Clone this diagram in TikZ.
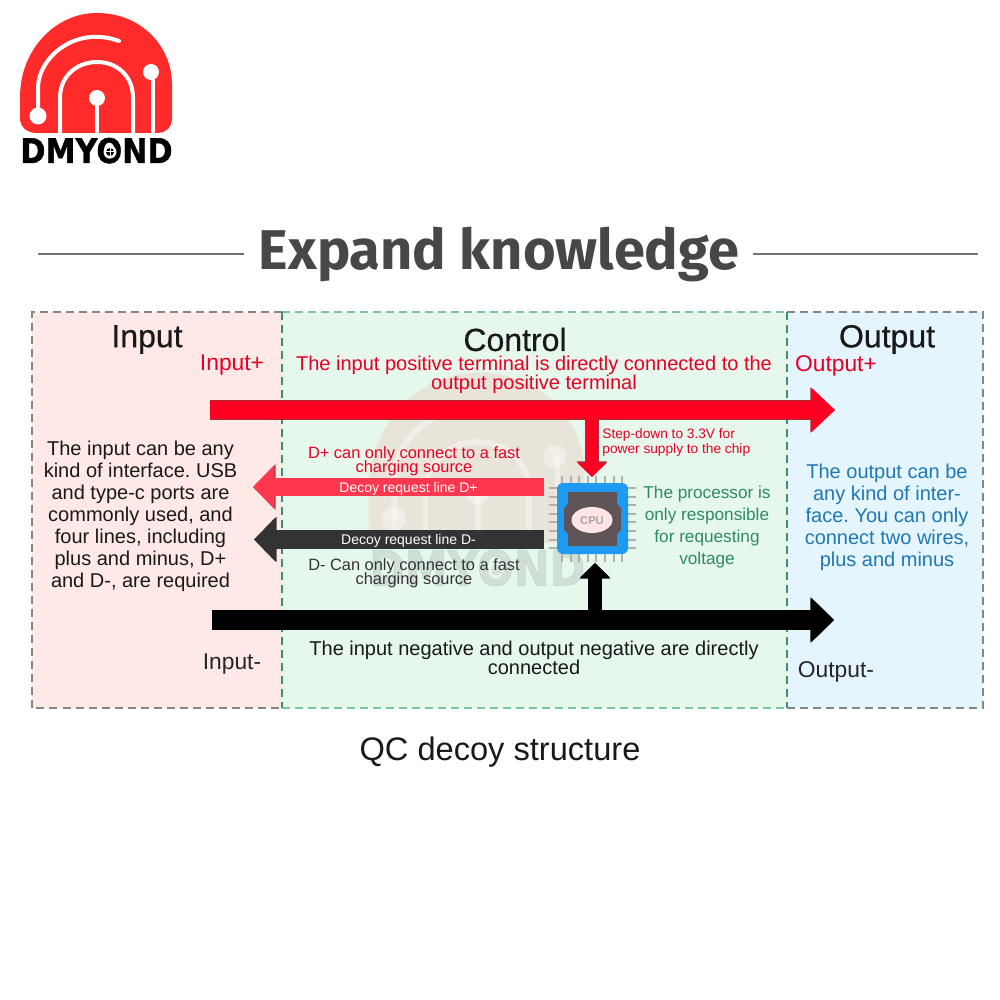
\documentclass[tikz,border=0pt]{standalone}
\usepackage{fontspec}
\setmainfont{Liberation Sans}
\newfontfamily\headfont{Fira Sans}
\newfontfamily\titlefont[FakeBold=0.5]{Liberation Sans}
\newfontfamily\wideboldfont[FakeBold=1.2]{DejaVu Sans Bold}
\usetikzlibrary{arrows.meta,calc}
\definecolor{inputbg}{HTML}{FFE9E7}
\definecolor{controlbg}{HTML}{E6F7EC}
\definecolor{outputbg}{HTML}{E5F5FE}
\definecolor{brandred}{HTML}{FF2A2A}
\definecolor{linered}{HTML}{FF0022}
\definecolor{lineredge}{HTML}{A03038}
\definecolor{decoyred}{HTML}{FF3850}
\definecolor{decoyedge}{HTML}{A8404C}
\definecolor{decoyblack}{HTML}{333333}
\definecolor{textred}{HTML}{E60026}
\definecolor{textblue}{HTML}{1F78B4}
\definecolor{textgreen}{HTML}{2E8B66}
\definecolor{chipblue}{HTML}{1E9BF0}
\definecolor{chipdark}{HTML}{5F5558}
\definecolor{pingrey}{HTML}{B0B0B0}
\definecolor{dashgrey}{HTML}{858585}
\definecolor{dashteal}{HTML}{3F8F72}
\definecolor{dashmint}{HTML}{78C4A4}
\lineskiplimit=-10pt
\frenchspacing
\newcommand{\fs}[2]{\fontsize{#1pt}{#2pt}\selectfont\lineskiplimit=-10pt\relax}
\tikzset{
  txt/.style={inner sep=0pt,align=center,anchor=center},
  paneltitle/.style={txt,font=\titlefont\fs{16}{18},text=black!90},
  bodytext/.style={txt,font=\fs{10}{11}},
  termlabel/.style={txt,font=\fs{11.4}{13}},
  notetext/.style={txt,font=\fs{8.2}{7}},
  wiretext/.style={txt,font=\fs{7}{8},text=white},
  edgegrey/.style={dash pattern=on 4pt off 2.5pt,line width=1pt,draw=dashgrey},
  edgeteal/.style={dash pattern=on 4pt off 2.5pt,line width=1pt,draw=dashteal},
  edgemint/.style={dash pattern=on 4pt off 2.5pt,line width=1pt,draw=dashmint},
  rule/.style={draw=black!55,line width=1pt},
  pin/.style={draw=pingrey,line width=1pt},
  fat/.style n args={6}{% fill, edge, shaft width, head length, head width
    line cap=butt,draw=#1,line width=#3,
    -{Triangle[length=#4,width=#5,fill=#1,color=#1]},
    preaction={draw=#2,line width=#3+.8pt,-{Triangle[length=#4+.8pt,width=#5+1pt,fill=#2,color=#2]}}
  },
}
% Brand mark: dome, traces and lettering. Arguments: line scale, trace opacity
\newcommand{\brandmark}[2]{%
  \fill[brandred] (20,97) .. controls (20,50) and (55,13) .. (97,13)
     .. controls (140,13) and (172,45) .. (172,85) -- (172,118)
     .. controls (172,128) and (165,133) .. (158,133) -- (37,133)
     .. controls (27,133) and (20,127) .. (20,118) -- cycle;
  \begin{scope}[white,line width=#1*2pt,line cap=round,opacity=#2]
    \draw (38,116) -- (38,88) .. controls (38,58) and (75,25) .. (119,41);
    \draw[line cap=butt] (60,134) -- (60,98) .. controls (60,75) and (78,62) .. (97,62)
       .. controls (116,62) and (133,75) .. (133,98) -- (133,134);
    \draw[line cap=butt] (97,98) -- (97,134);
    \draw[line cap=butt] (153,72) -- (153,134);
    \fill (38,116) circle (8.5);
    \fill (97,98) circle (8);
    \fill (151,72) circle (8);
  \end{scope}
  \node[inner sep=0pt,anchor=base west,xscale=.89,transform shape,font=\wideboldfont\fs{17}{20},text=black] at (20,163) {DMYOND};
  \fill[white] (110,152) circle (6.5);
  \fill[black] (110,152) circle (4);
  \draw[white,line width=#1*.5pt] (110,147) -- (110,157) (105,152) -- (115,152);
}
\begin{document}
\begin{tikzpicture}[x=.5pt,y=-.5pt]
\useasboundingbox (0,0) rectangle (1000,1000);
\fill[white] (0,0) rectangle (1000,1000);

% Brand mark in the corner
\brandmark{1}{1}

% Heading with its two rules
\node[txt,font=\headfont\bfseries\fs{28}{32},text=black!72] (head) at (499,254) {Expand knowledge};
\coordinate (ruleAl) at (38,254); \coordinate (ruleAr) at (244,254);
\coordinate (ruleBl) at (753,254); \coordinate (ruleBr) at (978,254);
\draw[rule] (ruleAl) -- (ruleAr);
\draw[rule] (ruleBl) -- (ruleBr);

% Three panels
\fill[inputbg] (32,312) rectangle (281.5,708);
\fill[controlbg] (281.5,312) rectangle (787,708);
\fill[outputbg] (787,312) rectangle (983,708);

% Faint brand mark behind the wiring
\begin{scope}[shift={(340.2,354)},scale=1.42,opacity=.09]
  \brandmark{1.42}{.4}
\end{scope}

\draw[edgegrey] (281.5,312) -- (32,312) -- (32,708) -- (281.5,708);
\draw[edgegrey] (787,312) -- (983,312) -- (983,708) -- (787,708);
\draw[edgemint] (281.5,312) -- (787,312);
\draw[edgemint] (281.5,708) -- (787,708);
\draw[edgeteal] (281.5,312) -- (281.5,708);
\draw[edgeteal] (787,312) -- (787,708);

% Panel titles
\node[paneltitle] (tInput) at (147,339.5) {Input};
\node[paneltitle] (tControl) at (515,339.5) {Control};
\node[paneltitle] (tOutput) at (887,339.5) {Output};

% Terminal labels
\node[termlabel,text=textred] (inP) at (232,365.5) {Input+};
\node[termlabel,text=textred] (outP) at (836,365.5) {Output+};
\node[termlabel,text=black!85] (inN) at (232,664) {Input-};
\node[termlabel,text=black!85] (outN) at (836,672) {Output-};

% Panel descriptions
\node[bodytext,text=textred] (posNote) at (534,375) {The input positive terminal is directly connected to the\\[-1.5pt]output positive terminal};
\node[bodytext,text=black!90] (negNote) at (534,658) {The input negative and output negative are directly\\[-1.5pt]connected};
\node[bodytext,text=black!90] (inNote) at (140.5,516) {The input can be any\\kind of interface. USB\\and type-c ports are\\commonly used, and\\four lines, including\\plus and minus, D+\\and D-, are required};
\node[bodytext,text=textblue] (outNote) at (887,517) {The output can be\\any kind of inter-\\face. You can only\\connect two wires,\\plus and minus};
\node[txt,font=\fs{8.6}{11},text=textgreen] (cpuNote) at (707,527) {The processor is\\only responsible\\for requesting\\voltage};

% Notes beside the data lines
\node[notetext,text=textred] (dpNote) at (414,461) {D+ can only connect to a fast\\charging source};
\node[notetext,text=black!80] (dnNote) at (414,573) {D- Can only connect to a fast\\charging source};
\node[txt,align=left,anchor=west,font=\fs{6.85}{7.5},text=textred] (stepNote) at (602,442) {Step-down to 3.3V for\\power supply to the chip};

% Processor package
\foreach \p in {0,...,7}{
  \draw[pin] ({562+\p*8.6},476) -- ({562+\p*8.6},484);
  \draw[pin] ({562+\p*8.6},553) -- ({562+\p*8.6},562);
  \draw[pin] (549,{488+\p*8.6}) -- (558,{488+\p*8.6});
  \draw[pin] (627,{488+\p*8.6}) -- (636,{488+\p*8.6});
}
\node[fill=chipblue,rounded corners=3pt,minimum width=35.5pt,minimum height=35.5pt,inner sep=0pt] (cpu) at (592.5,518.5) {};
\fill[chipdark] (568,492) -- (617,492) -- (617,504) -- (621,508) -- (621,530) -- (617,534) -- (617,546)
   -- (568,546) -- (568,534) -- (564,530) -- (564,508) -- (568,504) -- cycle;
\fill[white!90!red] (592,520) ellipse (20.5 and 13);
\node[txt,font=\bfseries\fs{5.6}{7},text=black!35] (cpuText) at (592,521) {CPU};

% Power and ground rails
\coordinate (railPa) at (210,410); \coordinate (railPb) at (835,410);
\coordinate (railNa) at (212,620); \coordinate (railNb) at (834,620);
\draw[fat={linered}{lineredge}{9pt}{11.5pt}{21pt}{}] (railPa) -- (railPb);
\draw[fat={black}{black}{9pt}{11pt}{21pt}{}] (railNa) -- (railNb);

% Feeds to the processor
\coordinate (feedP) at (592,410);
\coordinate (feedPend) at (592,477);
\coordinate (feedN) at (595,620);
\coordinate (feedNend) at (595,563);
\draw[fat={linered}{lineredge}{6pt}{7pt}{14pt}{}] (feedP) -- (feedPend);
\draw[fat={black}{black}{6.5pt}{7pt}{14pt}{}] (feedN) -- (feedNend);
\fill[linered] (211,402) rectangle (812,418.5);

% Decoy request lines
\coordinate (dpStart) at (544,487); \coordinate (dpEnd) at (253,487);
\coordinate (dnStart) at (544,539.5); \coordinate (dnEnd) at (254,539.5);
\draw[fat={decoyred}{decoyedge}{8.6pt}{10.5pt}{21pt}{}] (dpStart) -- (dpEnd);
\draw[fat={decoyblack}{decoyblack}{8.6pt}{10.5pt}{21pt}{}] (dnStart) -- (dnEnd);
\node[wiretext] (dpText) at (408.5,489) {Decoy request line D+};
\node[wiretext] (dnText) at (408.5,541) {Decoy request line D-};

% Caption
\node[txt,font=\fs{16.3}{18},text=black!90] (caption) at (500,752) {QC decoy structure};
\end{tikzpicture}
\end{document}
